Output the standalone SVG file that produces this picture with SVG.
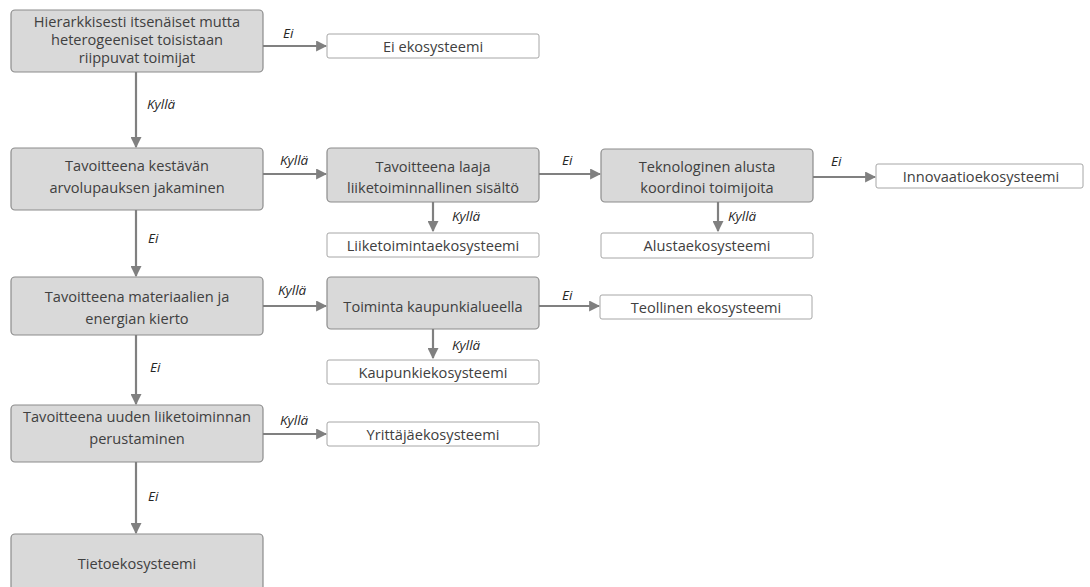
<svg xmlns="http://www.w3.org/2000/svg" width="1090" height="587" viewBox="0 0 1090 587">
  <style>
    .q rect { fill: #d9d9d9; stroke: #8c8c8c; stroke-width: 1.2; }
    .r rect { fill: #ffffff; stroke: #a6a6a6; stroke-width: 1; }
    text { font-family: "Open Sans", "Liberation Sans", Arial, sans-serif; font-size: 14.6px; fill: #404040; text-anchor: middle; dominant-baseline: central; }
    .lbl { font-style: italic; font-size: 13.5px; text-anchor: start; fill: #262626; }
    #connectors path { fill: none; stroke: #808080; stroke-width: 2.2; marker-end: url(#arr); }
  </style>
  <defs>
    <marker id="arr" viewBox="0 0 10 10" refX="9" refY="5" markerWidth="5" markerHeight="5" markerUnits="strokeWidth" orient="auto">
      <path d="M0,0 L10,5 L0,10 z" fill="#808080"/>
    </marker>
  </defs>
  <rect width="1090" height="587" fill="#ffffff"/>

  <!-- decision boxes -->
  <g id="n1" class="q"><rect x="11" y="10" width="252" height="62" rx="4"/>
    <text x="137" y="21">Hierarkkisesti itsenäiset mutta</text>
    <text x="137" y="39">heterogeeniset toisistaan</text>
    <text x="137" y="57">riippuvat toimijat</text></g>
  <g id="n2" class="q"><rect x="11" y="148" width="252" height="62" rx="4"/>
    <text x="137" y="165">Tavoitteena kestävän</text>
    <text x="137" y="187">arvolupauksen jakaminen</text></g>
  <g id="n3" class="q"><rect x="327" y="148" width="212" height="54" rx="4"/>
    <text x="433" y="166">Tavoitteena laaja</text>
    <text x="433" y="187">liiketoiminnallinen sisältö</text></g>
  <g id="n4" class="q"><rect x="601" y="149" width="212" height="53" rx="4"/>
    <text x="707" y="166">Teknologinen alusta</text>
    <text x="707" y="187">koordinoi toimijoita</text></g>
  <g id="n5" class="q"><rect x="11" y="277" width="252" height="58" rx="4"/>
    <text x="137" y="296">Tavoitteena materiaalien ja</text>
    <text x="137" y="318">energian kierto</text></g>
  <g id="n6" class="q"><rect x="327" y="277" width="212" height="52" rx="4"/>
    <text x="433" y="306">Toiminta kaupunkialueella</text></g>
  <g id="n7" class="q"><rect x="11" y="405" width="252" height="57" rx="4"/>
    <text x="137" y="416">Tavoitteena uuden liiketoiminnan</text>
    <text x="137" y="438">perustaminen</text></g>
  <g id="n8" class="q"><rect x="11" y="534" width="252" height="60" rx="4"/>
    <text x="137" y="563">Tietoekosysteemi</text></g>

  <!-- result boxes -->
  <g id="r1" class="r"><rect x="327" y="34" width="212" height="24" rx="2"/>
    <text x="433" y="46">Ei ekosysteemi</text></g>
  <g id="r2" class="r"><rect x="327" y="233" width="212" height="24" rx="2"/>
    <text x="433" y="245">Liiketoimintaekosysteemi</text></g>
  <g id="r3" class="r"><rect x="601" y="233" width="212" height="25" rx="2"/>
    <text x="707" y="245">Alustaekosysteemi</text></g>
  <g id="r4" class="r"><rect x="876" y="164" width="207" height="24" rx="2"/>
    <text x="981" y="176">Innovaatioekosysteemi</text></g>
  <g id="r5" class="r"><rect x="600" y="295" width="212" height="24" rx="2"/>
    <text x="706" y="307">Teollinen ekosysteemi</text></g>
  <g id="r6" class="r"><rect x="327" y="360" width="212" height="24" rx="2"/>
    <text x="433" y="372">Kaupunkiekosysteemi</text></g>
  <g id="r7" class="r"><rect x="327" y="422" width="212" height="24" rx="2"/>
    <text x="433" y="434">Yrittäjäekosysteemi</text></g>

  <!-- connectors -->
  <g id="connectors">
    <path d="M263,46 H326"/>
    <path d="M136,72 V147"/>
    <path d="M263,174 H326"/>
    <path d="M539,174 H600"/>
    <path d="M813,177 H875"/>
    <path d="M433,202 V231"/>
    <path d="M718,202 V231"/>
    <path d="M136,210 V276"/>
    <path d="M263,306 H326"/>
    <path d="M539,306 H599"/>
    <path d="M433,329 V358"/>
    <path d="M136,335 V404"/>
    <path d="M263,434 H326"/>
    <path d="M136,462 V533"/>
  </g>

  <!-- connector labels -->
  <g id="labels">
    <text class="lbl" x="283" y="33">Ei</text>
    <text class="lbl" x="147" y="104">Kyllä</text>
    <text class="lbl" x="280" y="160">Kyllä</text>
    <text class="lbl" x="562" y="160">Ei</text>
    <text class="lbl" x="831" y="161">Ei</text>
    <text class="lbl" x="452" y="216">Kyllä</text>
    <text class="lbl" x="728" y="216">Kyllä</text>
    <text class="lbl" x="148" y="238">Ei</text>
    <text class="lbl" x="278" y="290">Kyllä</text>
    <text class="lbl" x="562" y="295">Ei</text>
    <text class="lbl" x="452" y="345">Kyllä</text>
    <text class="lbl" x="150" y="367">Ei</text>
    <text class="lbl" x="280" y="420">Kyllä</text>
    <text class="lbl" x="148" y="496">Ei</text>
  </g>
</svg>
